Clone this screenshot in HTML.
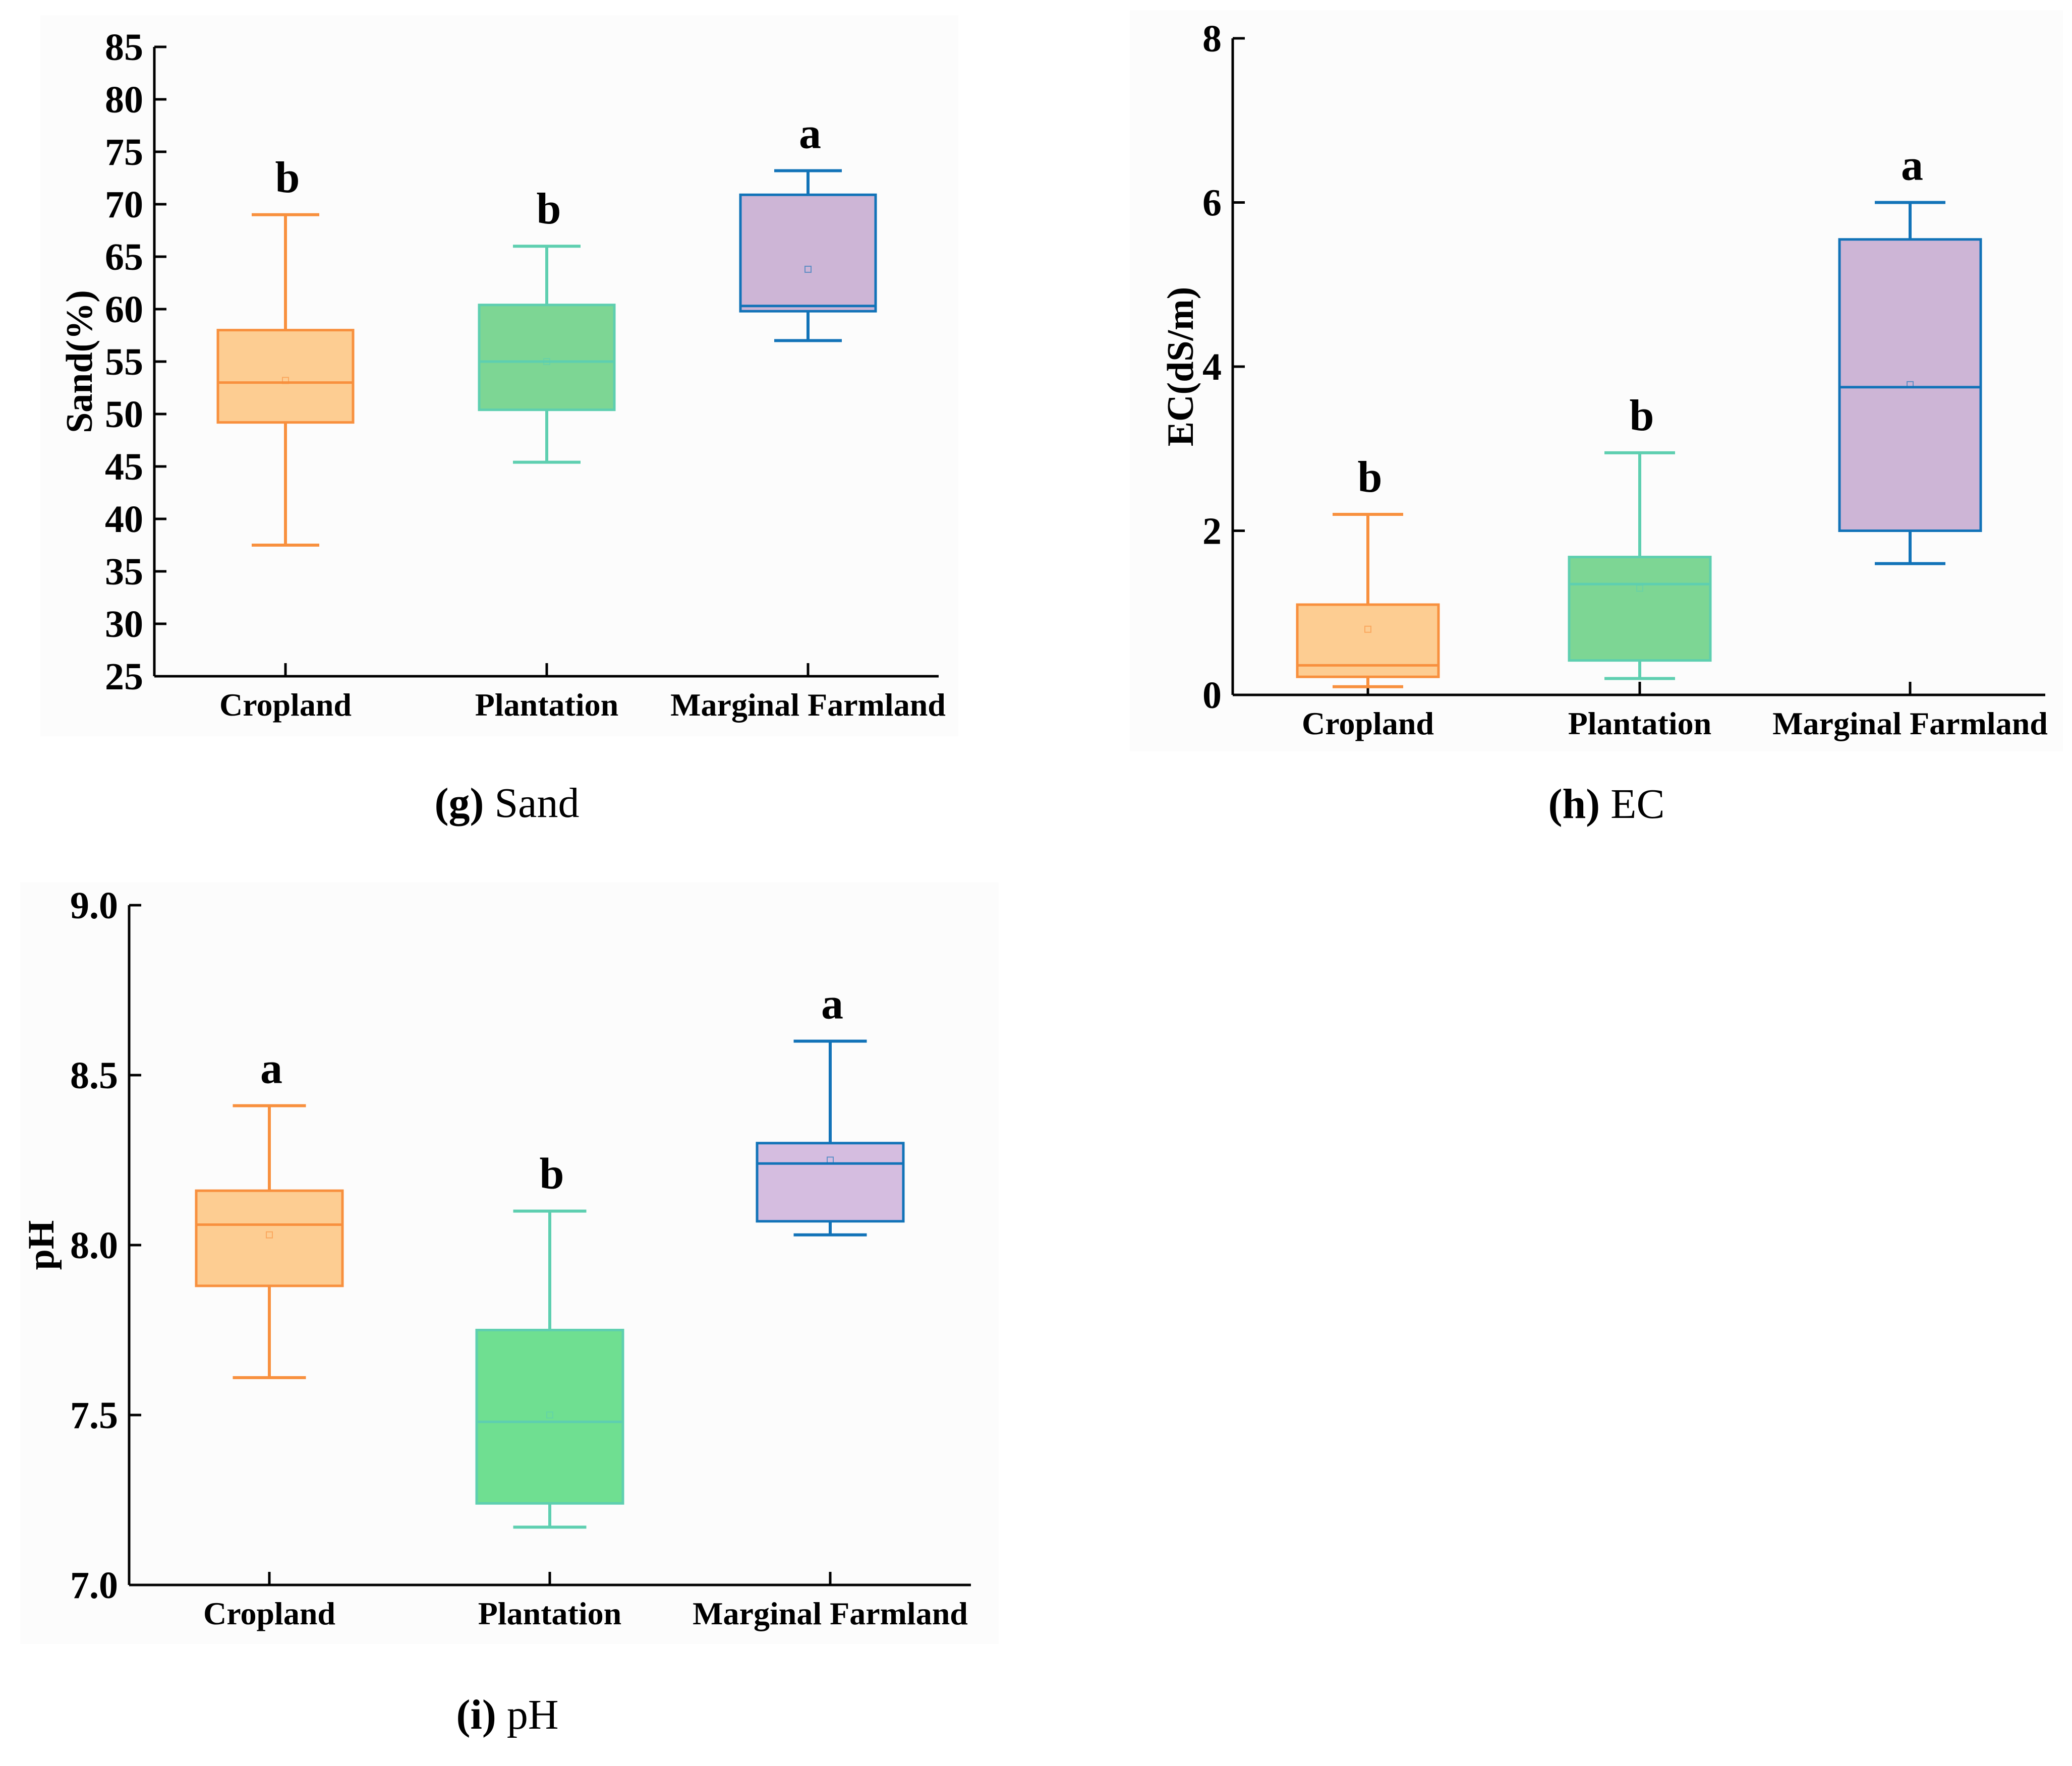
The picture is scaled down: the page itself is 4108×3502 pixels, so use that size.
<!DOCTYPE html>
<html><head><meta charset="utf-8"><style>
html,body{margin:0;padding:0;background:#fff;}
svg{display:block;}
text{font-family:"Liberation Serif",serif;}
</style></head><body>
<svg id="chart" width="4108" height="3502" viewBox="0 0 4108 3502" xmlns="http://www.w3.org/2000/svg">
<rect x="0" y="0" width="4108" height="3502" fill="#fff"/>
<rect x="80" y="30" width="1820" height="1430" fill="#fcfcfc"/>
<rect x="2240" y="20" width="1850" height="1470" fill="#fcfcfc"/>
<rect x="40" y="1750" width="1940" height="1510" fill="#fcfcfc"/>
</svg>
<script>
const categories = ["Cropland","Plantation","Marginal Farmland"];
// Sand
const sandLow = [37.5, 45.4, 57.0];
const sandQ1 = [49.2, 50.4, 59.8];
const sandMed = [53.0, 55.0, 60.3];
const sandQ3 = [58.0, 60.4, 70.9];
const sandHigh = [69.0, 66.0, 73.2];
const sandMean = [53.2, 55.0, 63.8];
const sandLetters = ["b","b","a"];
const sandTicks = [25,30,35,40,45,50,55,60,65,70,75,80,85];
// EC
const ecLow = [0.1, 0.2, 1.6];
const ecQ1 = [0.22, 0.42, 2.0];
const ecMed = [0.36, 1.35, 3.75];
const ecQ3 = [1.1, 1.68, 5.55];
const ecHigh = [2.2, 2.95, 6.0];
const ecMean = [0.8, 1.3, 3.78];
const ecLetters = ["b","b","a"];
const ecTicks = [0,2,4,6,8];
// pH
const phLow = [7.61, 7.17, 8.03];
const phQ1 = [7.88, 7.24, 8.07];
const phMed = [8.06, 7.48, 8.24];
const phQ3 = [8.16, 7.75, 8.30];
const phHigh = [8.41, 8.10, 8.60];
const phMean = [8.03, 7.5, 8.25];
const phLetters = ["a","b","a"];
const phTicks = ["7.0","7.5","8.0","8.5","9.0"];

const strokes = ["#f8903e","#5ecfb0","#1273b8"];
const fills = ["#fdcd92","#7dd694","#cdb5d6"];
const svg = document.getElementById('chart');
const NS = "http://www.w3.org/2000/svg";
function mk(tag, attrs, parent){
  const e = document.createElementNS(NS, tag);
  for (const k in attrs) e.setAttribute(k, attrs[k]);
  (parent||svg).appendChild(e);
  return e;
}
function panel(p){
  const g = mk('g',{});
  
  
  const y = v => p.y0 - (v - p.ymin)/(p.ymax - p.ymin)*(p.y0 - p.y1);
  const x = i => p.cx[i];
  const ya = mk('line',{x1:p.ax,y1:p.y0,x2:p.ax,y2:y(p.ymax),stroke:'#000','stroke-width':5},g);
  
  
  const xa = mk('line',{x1:p.ax,y1:p.y0,x2:p.xend,y2:p.y0,stroke:'#000','stroke-width':5},g);
  
  
  p.ticks.forEach(t=>{
    const v = parseFloat(t);
    mk('line',{x1:p.ax,y1:y(v),x2:p.ax+24,y2:y(v),stroke:'#000','stroke-width':5},g);
    const tl = mk('text',{x:p.ax-22,y:y(v)+26,'text-anchor':'end','font-size':76,'font-weight':'bold'},g);
    tl.textContent = t;
    
    
  });
  const yt = mk('text',{x:0,y:0,'text-anchor':'middle','font-size':74,'font-weight':'bold',transform:`translate(${p.titleX},${(p.y0+y(p.ymax))/2}) rotate(-90)`},g);
  yt.textContent = p.title;
  
  
  categories.forEach((c,i)=>{
    mk('line',{x1:x(i),y1:p.y0,x2:x(i),y2:p.y0-26,stroke:'#000','stroke-width':5},g);
    const cl = mk('text',{x:x(i),y:p.y0+78,'text-anchor':'middle','font-size':64,'font-weight':'bold'},g);
    cl.textContent = c;
    
    
    const s = strokes[i], hw = p.hw, cap = hw*0.5;
    const b = mk('g',{},g);
    
    
    mk('line',{x1:x(i),y1:y(p.low[i]),x2:x(i),y2:y(p.q1[i]),stroke:s,'stroke-width':6},b);
    mk('line',{x1:x(i),y1:y(p.high[i]),x2:x(i),y2:y(p.q3[i]),stroke:s,'stroke-width':6},b);
    mk('line',{x1:x(i)-cap,y1:y(p.low[i]),x2:x(i)+cap,y2:y(p.low[i]),stroke:s,'stroke-width':6},b);
    mk('line',{x1:x(i)-cap,y1:y(p.high[i]),x2:x(i)+cap,y2:y(p.high[i]),stroke:s,'stroke-width':6},b);
    mk('rect',{x:x(i)-hw,y:y(p.q3[i]),width:2*hw,height:y(p.q1[i])-y(p.q3[i]),fill:p.fills?p.fills[i]:fills[i],stroke:s,'stroke-width':5},b);
    mk('line',{x1:x(i)-hw,y1:y(p.med[i]),x2:x(i)+hw,y2:y(p.med[i]),stroke:s,'stroke-width':5},b);
    mk('rect',{x:x(i)-6,y:y(p.mean[i])-6,width:12,height:12,fill:'none',stroke:s,'stroke-width':2,opacity:0.6},b);
    const lt = mk('text',{x:x(i)+4,y:y(p.high[i])-45,'text-anchor':'middle','font-size':88,'font-weight':'bold'},g);
    lt.textContent = p.letters[i];
    
    
  });
  const cap = mk('text',{x:p.capX,y:p.capY,'text-anchor':'middle','font-size':84},g);
  cap.innerHTML = `<tspan font-weight="bold">(${p.letter})</tspan> ${p.capText}`;
  
  
}
panel({name:'panel-g-sand',ax:306,xend:1861,y0:1341,y1:93,ymin:25,ymax:85,cx:[566,1084,1602],hw:134,
  ticks:sandTicks.map(String),title:'Sand(%)',titleX:182,low:sandLow,q1:sandQ1,med:sandMed,q3:sandQ3,high:sandHigh,mean:sandMean,
  letters:sandLetters,letter:'g',capText:'Sand',capX:1005,capY:1620});
panel({name:'panel-h-ec',ax:2444,xend:4055,y0:1378,y1:76,ymin:0,ymax:8,cx:[2712,3251,3787],hw:140,
  ticks:ecTicks.map(String),title:'EC(dS/m)',titleX:2365,low:ecLow,q1:ecQ1,med:ecMed,q3:ecQ3,high:ecHigh,mean:ecMean,
  letters:ecLetters,letter:'h',capText:'EC',capX:3185,capY:1622});
panel({name:'panel-i-ph',ax:256,xend:1925,y0:3143,y1:1795,ymin:7.0,ymax:9.0,cx:[534,1090,1646],hw:145,
  ticks:phTicks,title:'pH',titleX:106,low:phLow,q1:phQ1,med:phMed,q3:phQ3,high:phHigh,mean:phMean,
  letters:phLetters,letter:'i',capText:'pH',capX:1006,capY:3428,fills:["#fdcd92","#6fdf91","#d5bde0"]});
</script>
</body></html>
